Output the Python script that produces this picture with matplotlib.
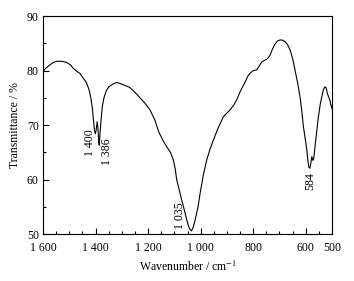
import matplotlib.pyplot as plt
from matplotlib.ticker import MultipleLocator, FuncFormatter

plt.rcParams['font.family'] = ['Liberation Serif', 'DejaVu Serif']
plt.rcParams['mathtext.fontset'] = 'stix'

# wavenumber (cm-1) and transmittance (%)
wavenumber = [1600, 1590, 1575, 1560, 1548, 1530, 1510, 1495, 1485, 1470,
              1460, 1447, 1435, 1425, 1418, 1412, 1408, 1404, 1401, 1398,
              1394, 1391, 1388, 1386, 1383, 1379, 1374, 1368, 1360, 1350,
              1335, 1320, 1305, 1290, 1270, 1250, 1231, 1212, 1193, 1175,
              1160, 1145, 1129, 1115, 1104, 1097, 1091, 1080, 1072, 1060,
              1053, 1045, 1040, 1035, 1028, 1021, 1010, 1002, 990, 977,
              965, 952, 935, 914, 900, 888, 875, 863, 850, 835,
              820, 812, 800, 787, 775, 767, 755, 745, 736, 728,
              718, 708, 698, 690, 679, 670, 660, 650, 641, 630,
              622, 615, 609, 600, 596, 592, 588, 584, 580, 577,
              573, 570, 565, 558, 552, 545, 539, 533, 527, 522,
              518, 514, 508, 505, 500]
transmittance = [79.8, 80.4, 81.0, 81.5, 81.7, 81.7, 81.5, 81.0, 80.4, 79.8,
                 79.5, 78.6, 77.8, 76.5, 75.0, 73.0, 70.9, 69.0, 68.4, 69.0,
                 70.6, 69.5, 67.0, 66.3, 68.5, 71.0, 73.5, 75.0, 76.2, 77.0,
                 77.5, 77.8, 77.6, 77.3, 76.9, 76.0, 75.0, 74.0, 72.8, 71.0,
                 68.8, 67.3, 66.0, 65.0, 63.6, 62.0, 59.9, 57.8, 56.2, 54.0,
                 52.6, 51.3, 50.8, 50.6, 51.3, 52.6, 55.0, 57.5, 60.8, 63.6,
                 65.5, 67.2, 69.3, 71.5, 72.2, 72.8, 73.6, 74.6, 76.1, 77.5,
                 79.0, 79.5, 80.0, 80.1, 81.0, 81.6, 81.9, 82.2, 82.8, 83.8,
                 84.8, 85.4, 85.6, 85.6, 85.3, 84.8, 83.8, 82.2, 80.1, 77.5,
                 75.2, 72.5, 69.7, 66.8, 65.4, 63.5, 62.2, 62.1, 63.2, 64.2,
                 63.5, 63.8, 66.0, 69.0, 71.5, 73.8, 75.2, 76.5, 77.0, 76.8,
                 75.8, 75.3, 74.5, 73.8, 73.0]

peak_labels = ['1 400', '1 386', '1 035', '584']
peak_x = [1421, 1358, 1078, 584]
peak_y = [69.2, 67.6, 55.8, 61.4]

fig = plt.figure(figsize=(3.54, 2.81), dpi=100)
ax = fig.add_axes([0.1215, 0.167, 0.8165, 0.776])

ax.plot(wavenumber, transmittance, color='black', lw=0.8)

for lab, xx, yy in zip(peak_labels, peak_x, peak_y):
    ax.text(xx, yy, lab, rotation=90, ha='center', va='top', fontsize=8.5)

ax.set_xlim(1600, 500)
ax.set_ylim(50, 90)
ax.set_xticks([1600, 1400, 1200, 1000, 800, 600, 500])
ax.xaxis.set_minor_locator(MultipleLocator(50))
ax.yaxis.set_major_locator(MultipleLocator(10))
ax.yaxis.set_minor_locator(MultipleLocator(5))


def fmt(v, pos):
    s = '%d' % v
    if len(s) > 3:
        s = s[:-3] + ' ' + s[-3:]
    return s


ax.xaxis.set_major_formatter(FuncFormatter(fmt))
ax.tick_params(which='both', direction='in', top=False, right=False,
               labelsize=8.5)
ax.tick_params(axis='x', pad=6)
ax.tick_params(axis='y', pad=3)
ax.tick_params(which='major', length=4, width=0.8)
ax.tick_params(which='minor', length=2.5, width=0.8)
for s in ax.spines.values():
    s.set_linewidth(0.8)

ax.set_xlabel('Wavenumber / cm$^{-1}$', fontsize=8.5, labelpad=4)
ax.set_ylabel('Transmittance / %', fontsize=8.5, labelpad=4)

fig.savefig('out.png', dpi=100)
